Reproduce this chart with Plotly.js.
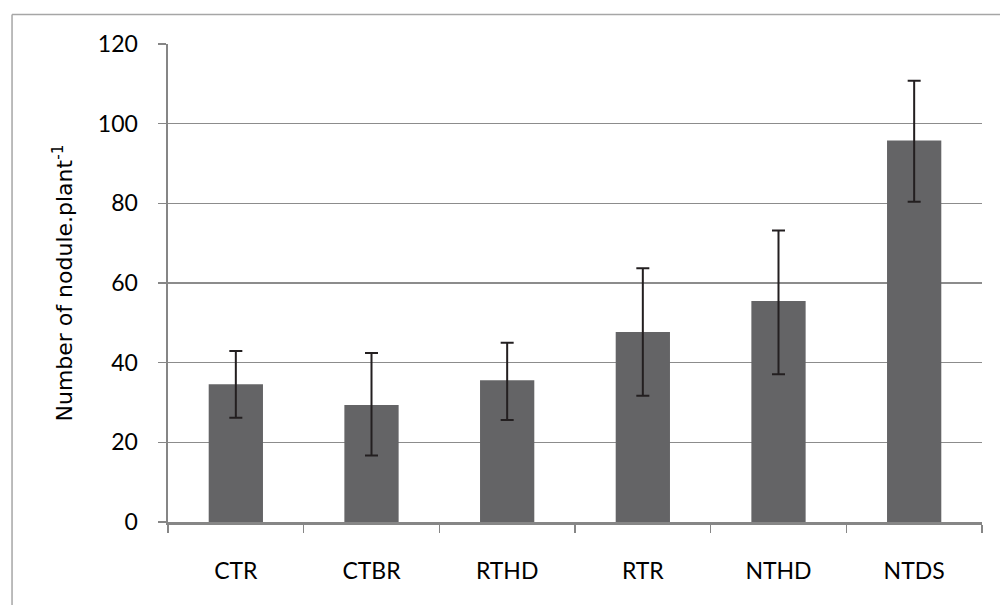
<!DOCTYPE html>
<html>
<head>
<meta charset="utf-8">
<script src="https://cdn.plot.ly/plotly-3.0.1.min.js"></script>
<style>
html,body{margin:0;padding:0;background:#fff;}
#chart{width:1000px;height:605px;}
</style>
</head>
<body>
<div id="chart"></div>
<script>
var categories = ["CTR", "CTBR", "RTHD", "RTR", "NTHD", "NTDS"];
var values = [34.6, 29.4, 35.6, 47.7, 55.5, 95.8];
var errPlus = [8.3, 13.0, 9.4, 16.0, 17.7, 15.0];
var errMinus = [8.4, 12.7, 10.0, 16.0, 18.4, 15.4];
var yTicks = [0, 20, 40, 60, 80, 100, 120];

var trace = {
  type: "bar",
  x: categories,
  y: values,
  marker: {color: "#646466", line: {width: 0}},
  error_y: {
    type: "data",
    array: errPlus,
    arrayminus: errMinus,
    symmetric: false,
    visible: true,
    color: "#231f20",
    thickness: 2,
    width: 6.5
  },
  hoverinfo: "none"
};

var layout = {
  width: 1000,
  height: 605,
  margin: {l: 168, r: 18, t: 43.5, b: 82.5, pad: 0},
  paper_bgcolor: "#ffffff",
  plot_bgcolor: "#ffffff",
  bargap: 0.6,
  showlegend: false,
  font: {family: "Lato, sans-serif", color: "#000000", size: 23},
  xaxis: {
    type: "category",
    showline: true,
    linecolor: "#868686",
    linewidth: 2.5,
    ticks: "outside",
    tickson: "boundaries",
    ticklen: 8,
    tickwidth: 1.5,
    tickcolor: "#868686",
    ticklabelstandoff: 27,
    showgrid: false,
    zeroline: false,
    tickfont: {family: "Lato, sans-serif", size: 23, color: "#000"}
  },
  yaxis: {
    range: [0, 120],
    tickvals: yTicks,
    ticktext: yTicks.map(String),
    showline: true,
    linecolor: "#868686",
    linewidth: 2.5,
    ticks: "outside",
    ticklen: 8,
    tickwidth: 1.5,
    tickcolor: "#868686",
    ticklabelstandoff: 15,
    showgrid: true,
    gridcolor: "#8c8c8c",
    gridwidth: 1.4,
    zeroline: false,
    tickfont: {family: "Lato, sans-serif", size: 23, color: "#000"},
    title: {
      text: "Number of nodule.plant<sup>-1</sup>",
      font: {family: "DejaVu Sans, sans-serif", size: 22, color: "#000"},
      standoff: 19
    }
  },
  shapes: [
    {type: "line", xref: "paper", yref: "paper", x0: -0.1916, x1: 1.05, y0: 1.0616, y1: 1.0616,
     line: {color: "#a6a6a6", width: 1.5}},
    {type: "line", xref: "paper", yref: "paper", x0: -0.1916, x1: -0.1916, y0: 1.0616, y1: -0.2,
     line: {color: "#a6a6a6", width: 1.5}}
  ]
};

Plotly.newPlot("chart", [trace], layout, {displayModeBar: false, staticPlot: true});
</script>
</body>
</html>
